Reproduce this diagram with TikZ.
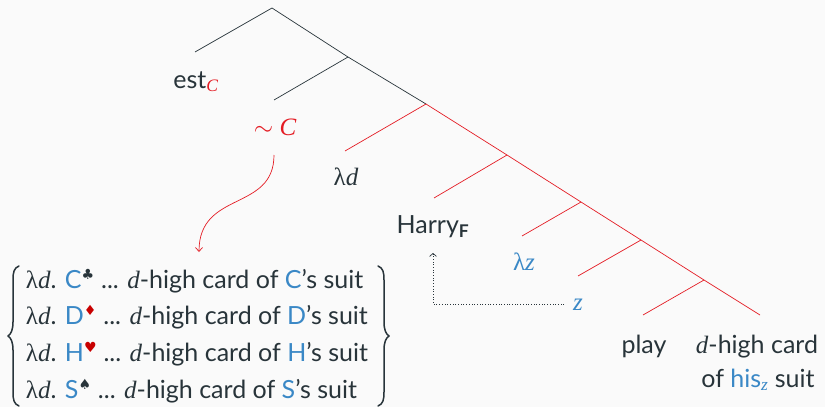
\documentclass[tikz,border=0pt]{standalone}
\usepackage{fontspec}
\setmainfont{Lato}
\newfontfamily\sym{DejaVu Sans}
\newfontfamily\ser{Liberation Serif}
\usetikzlibrary{arrows.meta}
\definecolor{ink}{RGB}{40,52,58}
\definecolor{myred}{RGB}{228,28,36}
\definecolor{myblue}{RGB}{58,136,198}
\definecolor{suitred}{RGB}{200,0,0}
\definecolor{bg}{RGB}{250,250,250}
\tikzset{
  lbl/.style={anchor=base, inner sep=0pt, text=ink, font=\fontsize{25}{30}\selectfont},
  blk/.style={draw=ink, line width=0.7pt},
  rd/.style={draw=myred, line width=0.7pt},
  bracestyle/.style={draw=ink, line width=1.5pt, line cap=round, line join=round},
}
\newcommand{\lam}{{\ser λ}}
\newcommand{\vi}[1]{{\ser\itshape #1}}
\newcommand{\suit}[1]{\textsuperscript{\sym\fontsize{14}{14}\selectfont #1}}
\newcommand{\Cl}{\textcolor{myblue}{C}\suit{♣}}
\newcommand{\Di}{\textcolor{myblue}{D}\suit{\color{suitred}♦}}
\newcommand{\He}{\textcolor{myblue}{H}\suit{\color{suitred}♥}}
\newcommand{\Sp}{\textcolor{myblue}{S}\suit{♠}}
\begin{document}
\begin{tikzpicture}[x=1pt,y=-1pt]
\fill[bg] (0,0) rectangle (825,407);
\useasboundingbox (0,0) rectangle (825,407);
% tree coordinates
\coordinate (r) at (272,8);
\coordinate (l1) at (195,52);
\coordinate (n1) at (348,57);
\coordinate (l2) at (274,100);
\coordinate (n2) at (426,104);
\coordinate (l3) at (345,151);
\coordinate (n3) at (507,155);
\coordinate (l4) at (434,198);
\coordinate (n4) at (581,202);
\coordinate (l5) at (522,236);
\coordinate (n5) at (641,240);
\coordinate (l6) at (578,276);
\coordinate (n6) at (704,280);
\coordinate (l7) at (643,315);
\coordinate (l8) at (760,315);
\draw[blk] (l1) -- (r) -- (n1) -- (n2);
\draw[blk] (n1) -- (l2);
\draw[rd] (n2) -- (n3) -- (n4) -- (n5) -- (n6) -- (l8);
\draw[rd] (n2) -- (l3);
\draw[rd] (n3) -- (l4);
\draw[rd] (n4) -- (l5);
\draw[rd] (n5) -- (l6);
\draw[rd] (n6) -- (l7);
% labels
\node[lbl] (est) at (196,88) {est\textsubscript{\color{myred}\vi{C}}};
\node[lbl, text=myred] (negc) at (275,135) {$\sim$ \vi{C}};
\node[lbl] (lamd) at (346,185) {\lam\vi{d}};
\node[lbl] (harry) at (433,233) {Harry\textsubscript{\textbf{F}}};
\node[lbl, text=myblue] (lamz) at (524,270) {\lam\vi{z}};
\node[lbl, text=myblue] (z) at (578,310) {\vi{z}};
\node[lbl] (play) at (644,353) {play};
\node[lbl] (card) at (757,353) {\vi{d}-high card};
\node[lbl] (suit) at (758,387) {of \textcolor{myblue}{his\textsubscript{\vi{z}}} suit};
% set of alternatives
\node[inner sep=0pt, text=ink, font=\fontsize{25}{30}\selectfont] (set) at (197,336) {%
  \renewcommand{\arraystretch}{1.23}%
  \begin{tabular}{@{}l@{}}
  \lam\vi{d}. \Cl{} ... \vi{d}-high card of \textcolor{myblue}{C}’s suit\\
  \lam\vi{d}. \Di{} ... \vi{d}-high card of \textcolor{myblue}{D}’s suit\\
  \lam\vi{d}. \He{} ... \vi{d}-high card of \textcolor{myblue}{H}’s suit\\
  \lam\vi{d}. \Sp{} ... \vi{d}-high card of \textcolor{myblue}{S}’s suit
  \end{tabular}};
% braces
\draw[bracestyle] (19,266) .. controls (14,268) and (13,272) .. (13,280)
  -- (13,322) .. controls (13,330) and (11,334) .. (8,336)
  .. controls (11,338) and (13,342) .. (13,350)
  -- (13,392) .. controls (13,400) and (14,404) .. (19,406);
\draw[bracestyle] (378,266) .. controls (383,268) and (384,272) .. (384,280)
  -- (384,322) .. controls (384,330) and (386,334) .. (389,336)
  .. controls (386,338) and (384,342) .. (384,350)
  -- (384,392) .. controls (384,400) and (383,404) .. (378,406);
% arrows
\coordinate (cs) at (274,155);
\coordinate (ce) at (199,252);
\draw[myred, line width=0.7pt, -{Straight Barb[length=4pt,width=7pt]}] (cs) .. controls (274,212) and (199,190) .. (ce);
\coordinate (zs) at (564,304);
\coordinate (corner) at (433,304);
\coordinate (ze) at (433,253);
\draw[ink, line width=0.7pt, dotted, -{Straight Barb[length=3pt,width=7pt]}] (zs) -- (corner) -- (ze);
\end{tikzpicture}
\end{document}
